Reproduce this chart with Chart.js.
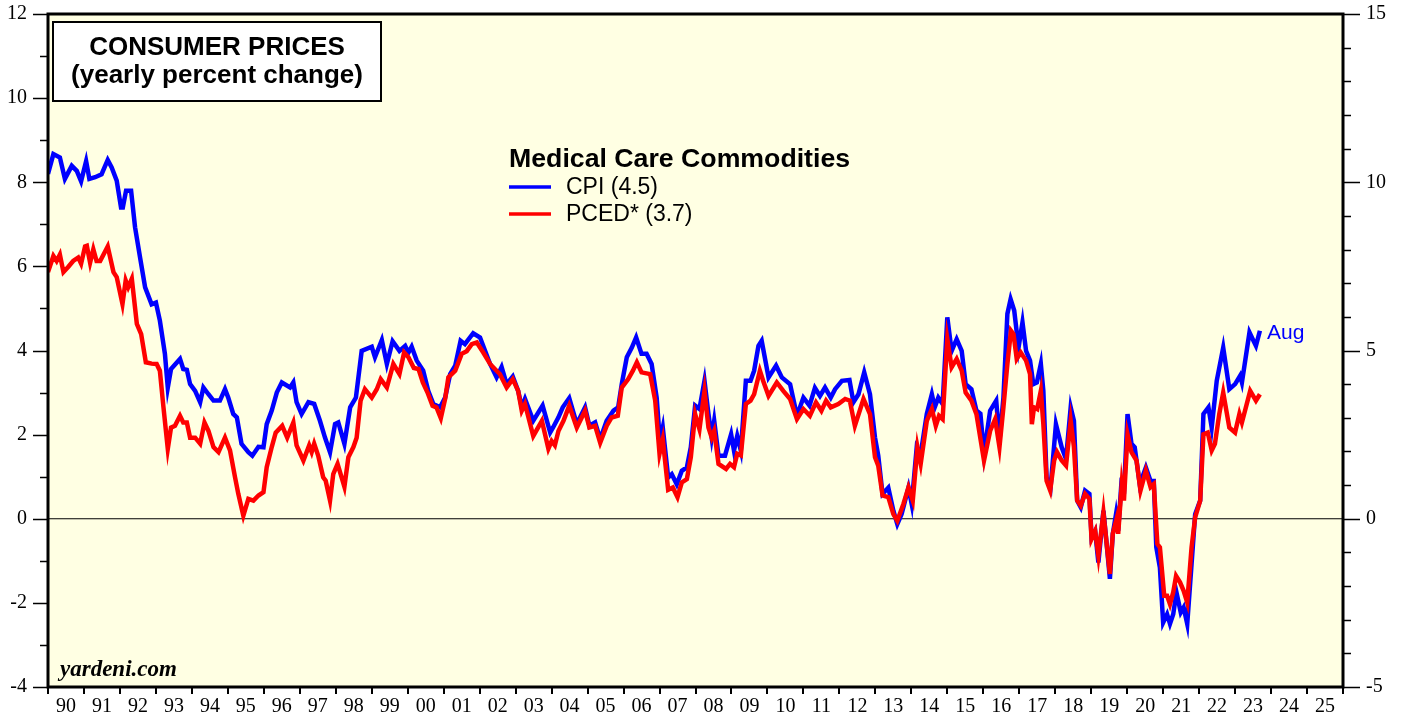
<!DOCTYPE html>
<html>
<head>
<meta charset="utf-8">
<script src="https://cdn.jsdelivr.net/npm/chart.js@4"></script>
<style>
  body { margin: 0; background: #ffffff; }
</style>
</head>
<body>
<canvas id="chCpi" width="1403" height="717"></canvas>
<script>
// CPI medical care commodities, yearly % change (left axis)
let cpiDates = [1990.0, 1990.15, 1990.33, 1990.47, 1990.66, 1990.8, 1990.92, 1991.06, 1991.15, 1991.31,
    1991.49, 1991.66, 1991.77, 1991.91, 1992.03, 1992.08, 1992.17, 1992.31, 1992.42, 1992.56,
    1992.7, 1992.88, 1993.0, 1993.11, 1993.25, 1993.33, 1993.42, 1993.67, 1993.76, 1993.86,
    1993.95, 1994.09, 1994.23, 1994.32, 1994.46, 1994.6, 1994.78, 1994.92, 1995.01, 1995.15,
    1995.25, 1995.38, 1995.57, 1995.68, 1995.85, 1995.99, 1996.08, 1996.22, 1996.36, 1996.5,
    1996.73, 1996.82, 1996.91, 1997.05, 1997.24, 1997.4, 1997.56, 1997.7, 1997.84, 1997.98,
    1998.07, 1998.24, 1998.4, 1998.56, 1998.72, 1999.0, 1999.09, 1999.28, 1999.42, 1999.58,
    1999.77, 1999.93, 2000.02, 2000.11, 2000.25, 2000.43, 2000.57, 2000.71, 2000.9, 2001.04,
    2001.18, 2001.32, 2001.47, 2001.59, 2001.82, 2002.01, 2002.29, 2002.47, 2002.61, 2002.75,
    2002.92, 2003.07, 2003.17, 2003.26, 2003.49, 2003.75, 2003.96, 2004.04, 2004.19, 2004.31,
    2004.49, 2004.7, 2004.93, 2005.05, 2005.21, 2005.35, 2005.53, 2005.72, 2005.85, 2005.95,
    2006.09, 2006.23, 2006.35, 2006.5, 2006.64, 2006.78, 2006.92, 2007.01, 2007.09, 2007.24,
    2007.34, 2007.48, 2007.62, 2007.76, 2007.87, 2007.99, 2008.11, 2008.25, 2008.36, 2008.45,
    2008.52, 2008.64, 2008.82, 2008.99, 2009.07, 2009.16, 2009.26, 2009.4, 2009.53, 2009.63,
    2009.75, 2009.84, 2010.03, 2010.24, 2010.4, 2010.63, 2010.82, 2011.0, 2011.17, 2011.32,
    2011.46, 2011.6, 2011.76, 2011.88, 2012.07, 2012.28, 2012.39, 2012.53, 2012.69, 2012.85,
    2012.99, 2013.08, 2013.2, 2013.36, 2013.5, 2013.61, 2013.73, 2013.92, 2014.01, 2014.15,
    2014.26, 2014.43, 2014.57, 2014.65, 2014.75, 2014.87, 2015.0, 2015.12, 2015.26, 2015.4,
    2015.51, 2015.67, 2015.81, 2015.92, 2016.02, 2016.19, 2016.36, 2016.45, 2016.56, 2016.67,
    2016.76, 2016.86, 2016.98, 2017.09, 2017.19, 2017.3, 2017.39, 2017.49, 2017.6, 2017.67,
    2017.76, 2017.87, 2018.02, 2018.18, 2018.3, 2018.43, 2018.52, 2018.61, 2018.71, 2018.83,
    2018.95, 2019.01, 2019.11, 2019.2, 2019.34, 2019.43, 2019.52, 2019.6, 2019.69, 2019.75,
    2019.85, 2019.91, 2020.01, 2020.12, 2020.21, 2020.35, 2020.52, 2020.65, 2020.74, 2020.81,
    2020.91, 2021.0, 2021.11, 2021.19, 2021.28, 2021.37, 2021.49, 2021.57, 2021.67, 2021.79,
    2021.89, 2022.03, 2022.12, 2022.26, 2022.35, 2022.49, 2022.67, 2022.84, 2023.0, 2023.14,
    2023.19, 2023.4, 2023.58, 2023.69];
let cpiValues = [8.20, 8.67, 8.59, 8.08, 8.39, 8.27, 8.02, 8.50, 8.08, 8.12,
    8.19, 8.53, 8.35, 8.04, 7.40, 7.40, 7.80, 7.80, 6.93, 6.21,
    5.50, 5.10, 5.14, 4.71, 3.92, 3.12, 3.56, 3.80, 3.56, 3.54,
    3.20, 3.04, 2.77, 3.12, 2.96, 2.81, 2.81, 3.08, 2.88, 2.49,
    2.41, 1.78, 1.58, 1.50, 1.71, 1.70, 2.25, 2.57, 3.00, 3.24,
    3.12, 3.24, 2.77, 2.49, 2.77, 2.73, 2.33, 1.93, 1.58, 2.25,
    2.29, 1.78, 2.65, 2.88, 3.99, 4.09, 3.84, 4.25, 3.68, 4.22,
    3.99, 4.11, 3.95, 4.09, 3.76, 3.52, 3.04, 2.73, 2.65, 2.88,
    3.44, 3.64, 4.23, 4.15, 4.41, 4.31, 3.68, 3.36, 3.61, 3.20,
    3.38, 3.04, 2.65, 2.85, 2.33, 2.69, 2.05, 2.17, 2.41, 2.65,
    2.87, 2.25, 2.65, 2.21, 2.29, 1.89, 2.33, 2.57, 2.65, 3.20,
    3.84, 4.07, 4.31, 3.92, 3.92, 3.68, 2.88, 1.85, 2.17, 0.98,
    1.06, 0.82, 1.14, 1.22, 1.70, 2.69, 2.61, 3.28, 2.49, 1.93,
    2.33, 1.50, 1.50, 2.01, 1.62, 1.97, 1.62, 3.28, 3.28, 3.52,
    4.11, 4.23, 3.36, 3.64, 3.36, 3.20, 2.45, 2.88, 2.69, 3.11,
    2.92, 3.12, 2.88, 3.08, 3.28, 3.30, 2.77, 2.96, 3.48, 2.96,
    1.93, 1.50, 0.59, 0.74, 0.19, -0.13, 0.11, 0.74, 0.35, 1.70,
    1.54, 2.49, 2.96, 2.65, 2.88, 2.73, 4.79, 3.99, 4.27, 3.99,
    3.20, 3.08, 2.57, 2.50, 1.55, 2.57, 2.81, 1.85, 2.88, 4.87,
    5.22, 4.95, 4.07, 4.67, 3.99, 3.76, 3.20, 3.24, 3.68, 3.04,
    0.98, 0.74, 2.25, 1.70, 1.42, 2.65, 2.33, 0.43, 0.27, 0.67,
    0.59, -0.44, -0.29, -1.04, 0.19, -0.60, -1.43, -0.36, 0.11, -0.29,
    0.98, 0.59, 2.49, 1.78, 1.70, 0.82, 1.22, 0.90, 0.90, -0.68,
    -1.16, -2.47, -2.27, -2.50, -2.27, -1.75, -2.23, -2.11, -2.50, -1.08,
    0.11, 0.43, 2.49, 2.65, 2.17, 3.28, 4.07, 3.08, 3.20, 3.40,
    3.24, 4.43, 4.11, 4.47];

// PCE deflator medical care commodities, yearly % change (right axis)
let pcedDates = [1990.0, 1990.15, 1990.24, 1990.33, 1990.43, 1990.56, 1990.7, 1990.84, 1990.92, 1991.03,
    1991.08, 1991.17, 1991.26, 1991.35, 1991.45, 1991.66, 1991.82, 1991.91, 1992.07, 1992.16,
    1992.23, 1992.33, 1992.47, 1992.59, 1992.72, 1992.88, 1993.02, 1993.11, 1993.21, 1993.33,
    1993.42, 1993.53, 1993.67, 1993.76, 1993.86, 1993.95, 1994.09, 1994.23, 1994.35, 1994.46,
    1994.6, 1994.74, 1994.92, 1995.06, 1995.2, 1995.29, 1995.43, 1995.57, 1995.71, 1995.85,
    1995.99, 1996.08, 1996.22, 1996.33, 1996.51, 1996.65, 1996.82, 1996.91, 1997.1, 1997.26,
    1997.33, 1997.4, 1997.51, 1997.65, 1997.72, 1997.84, 1997.93, 1998.05, 1998.24, 1998.35,
    1998.49, 1998.58, 1998.69, 1998.81, 1999.0, 1999.14, 1999.25, 1999.42, 1999.6, 1999.77,
    1999.9, 2000.02, 2000.17, 2000.3, 2000.42, 2000.55, 2000.69, 2000.8, 2000.92, 2001.04,
    2001.13, 2001.32, 2001.5, 2001.64, 2001.78, 2001.92, 2002.1, 2002.29, 2002.47, 2002.56,
    2002.75, 2002.92, 2003.07, 2003.17, 2003.26, 2003.49, 2003.73, 2003.91, 2004.0, 2004.09,
    2004.19, 2004.33, 2004.49, 2004.7, 2004.93, 2005.05, 2005.21, 2005.35, 2005.53, 2005.67,
    2005.84, 2005.95, 2006.13, 2006.26, 2006.37, 2006.5, 2006.74, 2006.88, 2007.0, 2007.09,
    2007.24, 2007.37, 2007.5, 2007.62, 2007.76, 2007.87, 2007.99, 2008.11, 2008.25, 2008.36,
    2008.45, 2008.52, 2008.64, 2008.85, 2008.96, 2009.07, 2009.16, 2009.26, 2009.4, 2009.53,
    2009.63, 2009.79, 2009.88, 2010.03, 2010.26, 2010.44, 2010.63, 2010.82, 2011.0, 2011.18,
    2011.35, 2011.5, 2011.63, 2011.76, 2011.97, 2012.16, 2012.29, 2012.43, 2012.67, 2012.85,
    2012.99, 2013.08, 2013.2, 2013.36, 2013.5, 2013.61, 2013.78, 2013.92, 2014.04, 2014.17,
    2014.26, 2014.43, 2014.57, 2014.68, 2014.77, 2014.87, 2015.0, 2015.12, 2015.26, 2015.4,
    2015.51, 2015.67, 2015.81, 2016.02, 2016.19, 2016.33, 2016.45, 2016.56, 2016.67, 2016.77,
    2016.84, 2016.93, 2017.04, 2017.19, 2017.3, 2017.35, 2017.41, 2017.5, 2017.6, 2017.67,
    2017.76, 2017.86, 2017.97, 2018.05, 2018.18, 2018.3, 2018.43, 2018.52, 2018.61, 2018.71,
    2018.83, 2018.95, 2019.01, 2019.11, 2019.2, 2019.34, 2019.43, 2019.52, 2019.6, 2019.71,
    2019.75, 2019.85, 2019.91, 2020.01, 2020.12, 2020.26, 2020.37, 2020.52, 2020.65, 2020.74,
    2020.84, 2020.91, 2021.03, 2021.11, 2021.19, 2021.28, 2021.36, 2021.47, 2021.57, 2021.67,
    2021.79, 2021.89, 2022.03, 2022.12, 2022.24, 2022.35, 2022.44, 2022.56, 2022.67, 2022.84,
    2023.0, 2023.12, 2023.19, 2023.42, 2023.58, 2023.69];
let pcedValues = [7.33, 7.81, 7.66, 7.85, 7.33, 7.48, 7.66, 7.76, 7.58, 8.09,
    8.11, 7.61, 8.01, 7.66, 7.66, 8.09, 7.33, 7.18, 6.38, 7.08,
    6.88, 7.13, 5.79, 5.49, 4.65, 4.61, 4.60, 4.40, 3.31, 2.08,
    2.71, 2.76, 3.06, 2.86, 2.86, 2.41, 2.41, 2.23, 2.86, 2.61,
    2.13, 1.98, 2.41, 2.03, 1.23, 0.74, 0.09, 0.59, 0.54, 0.69,
    0.79, 1.53, 2.13, 2.56, 2.76, 2.41, 2.86, 2.18, 1.73, 2.18,
    1.98, 2.23, 1.88, 1.23, 1.13, 0.54, 1.33, 1.63, 0.95, 1.83,
    2.13, 2.41, 3.51, 3.85, 3.60, 3.85, 4.15, 3.90, 4.60, 4.30,
    4.94, 4.80, 4.48, 4.45, 4.05, 3.75, 3.36, 3.31, 2.99, 3.56,
    4.20, 4.40, 4.90, 4.98, 5.19, 5.24, 4.94, 4.60, 4.40, 4.30,
    3.90, 4.15, 3.80, 3.21, 3.41, 2.46, 2.91, 2.08, 2.31, 2.18,
    2.61, 2.91, 3.36, 2.71, 3.21, 2.71, 2.76, 2.26, 2.76, 3.01,
    3.06, 3.90, 4.15, 4.40, 4.65, 4.35, 4.30, 3.51, 1.93, 2.36,
    0.86, 0.93, 0.64, 1.08, 1.18, 1.83, 3.11, 2.66, 3.80, 2.71,
    2.41, 2.61, 1.63, 1.48, 1.63, 1.53, 1.93, 1.88, 3.41, 3.51,
    3.70, 4.40, 4.10, 3.65, 4.05, 3.80, 3.56, 2.96, 3.26, 3.06,
    3.46, 3.21, 3.51, 3.31, 3.41, 3.56, 3.51, 2.76, 3.56, 3.11,
    1.83, 1.58, 0.69, 0.64, 0.14, -0.06, 0.44, 0.93, 0.54, 2.13,
    1.63, 2.91, 3.26, 2.76, 3.06, 2.96, 5.34, 4.50, 4.75, 4.40,
    3.75, 3.51, 3.11, 1.73, 2.61, 2.96, 2.13, 3.31, 4.60, 5.59,
    5.49, 4.75, 4.94, 4.70, 4.30, 2.81, 3.31, 3.26, 3.80, 2.81,
    1.13, 0.84, 1.73, 1.98, 1.73, 1.58, 2.91, 2.13, 0.54, 0.39,
    0.74, 0.59, -0.60, -0.36, -1.10, 0.19, -0.75, -1.64, -0.45, 0.01,
    -0.45, 1.03, 0.54, 2.51, 1.98, 1.73, 0.84, 1.43, 0.94, 1.03,
    -0.75, -0.85, -2.29, -2.29, -2.54, -2.19, -1.70, -1.89, -2.14, -2.49,
    -0.85, 0.04, 0.54, 2.51, 2.56, 2.03, 2.23, 3.11, 3.75, 2.71,
    2.56, 3.11, 2.86, 3.80, 3.51, 3.70];

let yearLabels = ['90', '91', '92', '93', '94', '95', '96', '97', '98', '99',
    '00', '01', '02', '03', '04', '05', '06', '07', '08', '09',
    '10', '11', '12', '13', '14', '15', '16', '17', '18', '19',
    '20', '21', '22', '23', '24', '25'];
let leftTicks = [-4, -2, 0, 2, 4, 6, 8, 10, 12];
let rightTicks = [-5, 0, 5, 10, 15];

let serif = "'Liberation Serif', 'DejaVu Serif', serif";
let sans = "'Liberation Sans', Arial, sans-serif";

function toPoints(xs, ys) {
    let pts = [];
    for (let i = 0; i < xs.length; i++) {
        pts.push({ x: xs[i], y: ys[i] });
    }
    return pts;
}

// keep the plot box fixed: no extra room for label overflow
function fixWidth(w) {
    return function (scale) {
        scale.width = w;
        scale.paddingTop = 0;
        scale.paddingBottom = 0;
    };
}

// background, zero line, frame, tick marks and the text boxes
const decor = {
    id: 'decor',
    beforeDraw(chart) {
        const ctx = chart.ctx;
        const a = chart.chartArea;
        ctx.save();
        ctx.fillStyle = '#ffffff';
        ctx.fillRect(0, 0, chart.width, chart.height);
        ctx.fillStyle = '#ffffe3';
        ctx.fillRect(a.left, a.top, a.right - a.left, a.bottom - a.top);
        ctx.restore();
    },
    beforeDatasetsDraw(chart) {
        const ctx = chart.ctx;
        const a = chart.chartArea;
        const y0 = chart.scales.y.getPixelForValue(0);
        ctx.save();
        ctx.strokeStyle = '#000';
        ctx.lineWidth = 1.2;
        ctx.beginPath();
        ctx.moveTo(a.left, y0);
        ctx.lineTo(a.right, y0);
        ctx.stroke();
        ctx.restore();
    },
    afterDatasetsDraw(chart) {
        const ctx = chart.ctx;
        const a = chart.chartArea;
        const sx = chart.scales.x, sy = chart.scales.y, sy2 = chart.scales.y2;
        ctx.save();
        ctx.strokeStyle = '#000';

        // tick marks
        ctx.lineWidth = 2;
        ctx.beginPath();
        for (let yr = 1990; yr <= 2026; yr++) {
            let px = Math.round(sx.getPixelForValue(yr));
            ctx.moveTo(px, a.bottom);
            ctx.lineTo(px, a.bottom + 7);
        }
        ctx.stroke();
        ctx.lineWidth = 1.5;
        ctx.beginPath();
        for (let v = -4; v <= 12; v++) {
            let py = Math.round(sy.getPixelForValue(v)) + 0.5;
            let len = (v % 2 === 0) ? 15 : 8;
            ctx.moveTo(a.left, py);
            ctx.lineTo(a.left - len, py);
        }
        for (let v = -5; v <= 15; v++) {
            let py = Math.round(sy2.getPixelForValue(v)) + 0.5;
            let len = (v % 5 === 0) ? 17 : 8;
            ctx.moveTo(a.right, py);
            ctx.lineTo(a.right + len, py);
        }
        ctx.stroke();

        // frame
        ctx.lineWidth = 3;
        ctx.strokeRect(a.left, a.top, a.right - a.left, a.bottom - a.top);

        // title box
        ctx.fillStyle = '#ffffff';
        ctx.fillRect(53, 22, 328, 79);
        ctx.lineWidth = 2;
        ctx.strokeRect(53, 22, 328, 79);
        ctx.fillStyle = '#000';
        ctx.textAlign = 'center';
        ctx.textBaseline = 'middle';
        ctx.font = 'bold 26px ' + sans;
        ctx.fillText('CONSUMER PRICES', 217, 48);
        ctx.fillText('(yearly percent change)', 217, 76);

        // legend
        ctx.textAlign = 'left';
        ctx.textBaseline = 'middle';
        ctx.font = 'bold 26.7px ' + sans;
        ctx.fillText('Medical Care Commodities', 509, 160);
        ctx.font = '23px ' + sans;
        ctx.lineWidth = 3.5;
        ctx.strokeStyle = '#0000ff';
        ctx.beginPath();
        ctx.moveTo(509, 187);
        ctx.lineTo(551, 187);
        ctx.stroke();
        ctx.fillText('CPI (4.5)', 566, 188);
        ctx.strokeStyle = '#ff0000';
        ctx.beginPath();
        ctx.moveTo(509, 214);
        ctx.lineTo(551, 214);
        ctx.stroke();
        ctx.fillText('PCED* (3.7)', 566, 215);

        // last month label
        ctx.fillStyle = '#0000ff';
        ctx.font = '21px ' + sans;
        ctx.fillText('Aug', 1267, 333);

        // source
        ctx.fillStyle = '#000';
        ctx.font = 'italic bold 23px ' + serif;
        ctx.fillText('yardeni.com', 60, 670);
        ctx.restore();
    }
};

const config = {
    type: 'line',
    data: {
        datasets: [{
            label: 'PCED*',
            data: toPoints(pcedDates, pcedValues),
            yAxisID: 'y2',
            borderColor: '#ff0000',
            borderWidth: 4.5,
            pointRadius: 0,
            tension: 0,
            fill: false
        }, {
            label: 'CPI',
            data: toPoints(cpiDates, cpiValues),
            yAxisID: 'y',
            borderColor: '#0000ff',
            borderWidth: 4.5,
            pointRadius: 0,
            tension: 0,
            fill: false
        }]
    },
    options: {
        responsive: false,
        animation: false,
        layout: { padding: { top: 14, left: 0, right: 0, bottom: 0 } },
        plugins: {
            legend: { display: false },
            tooltip: { enabled: false }
        },
        scales: {
            x: {
                type: 'linear',
                position: 'bottom',
                min: 1990,
                max: 2026,
                grid: { display: false, drawTicks: false },
                border: { display: false },
                afterFit: function (scale) {
                    scale.height = 30;
                    scale.paddingLeft = 0;
                    scale.paddingRight = 0;
                },
                ticks: {
                    stepSize: 1,
                    autoSkip: false,
                    maxRotation: 0,
                    minRotation: 0,
                    labelOffset: 18,
                    padding: 8,
                    color: '#000',
                    font: { family: serif, size: 20 },
                    callback: function (v) {
                        let i = Math.round(v) - 1990;
                        return (i >= 0 && i < yearLabels.length) ? yearLabels[i] : '';
                    }
                }
            },
            y: {
                position: 'left',
                min: -4,
                max: 12,
                grid: { display: false, drawTicks: false },
                border: { display: false },
                afterFit: fixWidth(48),
                ticks: {
                    stepSize: 1,
                    autoSkip: false,
                    padding: 21,
                    color: '#000',
                    font: { family: serif, size: 20 },
                    callback: function (v) { return leftTicks.includes(v) ? String(v) : ''; }
                }
            },
            y2: {
                position: 'right',
                min: -5,
                max: 15,
                grid: { display: false, drawTicks: false },
                border: { display: false },
                afterFit: fixWidth(60),
                ticks: {
                    stepSize: 1,
                    autoSkip: false,
                    padding: 23,
                    color: '#000',
                    font: { family: serif, size: 20 },
                    callback: function (v) { return rightTicks.includes(v) ? String(v) : ''; }
                }
            }
        }
    },
    plugins: [decor]
};

new Chart(document.getElementById('chCpi'), config);
</script>
</body>
</html>
